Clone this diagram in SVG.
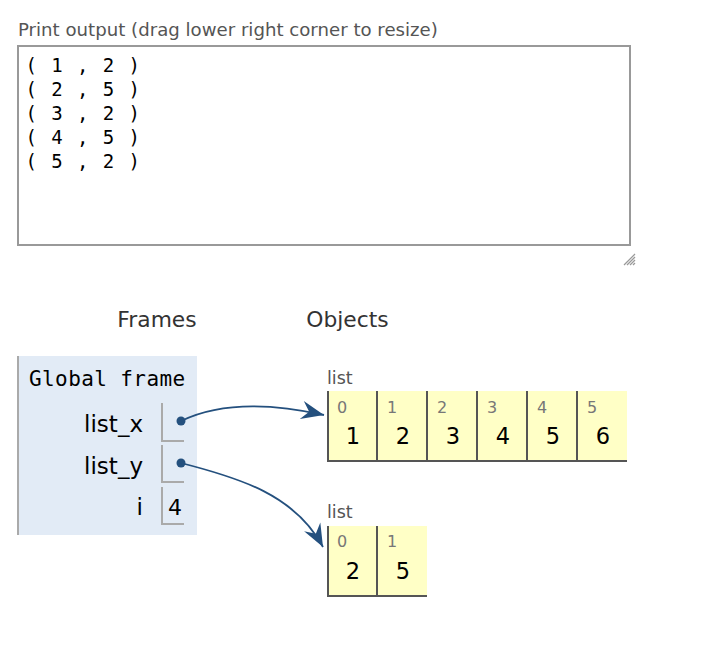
<svg xmlns="http://www.w3.org/2000/svg" width="718" height="648" viewBox="0 0 718 648">
<style>
.sans{font-family:"DejaVu Sans",Verdana,sans-serif}
.mono{font-family:"DejaVu Sans Mono","Liberation Mono",monospace}
.lbl{fill:#555;font-size:17.5px}
.title{fill:#555;font-size:18.15px}
.out{font-size:19px;letter-spacing:1.45px;fill:#000}
.hdr{font-size:21.8px;fill:#333}
.var{font-size:23px;fill:#000;text-anchor:end}
.val{font-size:22px;fill:#000}
.idx{font-size:16px;fill:#777}
.cellv{font-size:22.5px;fill:#000;text-anchor:middle}
.vbox{fill:none;stroke:#aaa;stroke-width:2}
.cell{fill:#ffffc6}
.sep{stroke:#555;stroke-width:2;fill:none}
.conn{fill:none;stroke:#24507e;stroke-width:1.8}
.dot{fill:#24507e}
</style>
<defs>
<marker id="ah" markerUnits="userSpaceOnUse" markerWidth="26" markerHeight="22" viewBox="-22 -10 24 20" refX="0" refY="0" orient="auto">
<path d="M0,0 L-21,-8.5 L-14,0 L-21,8.5 Z" fill="#24507e"/>
</marker>
</defs>
<rect width="718" height="648" fill="#fff"/>
<g id="print-output">
<text class="sans title" x="18" y="36">Print output (drag lower right corner to resize)</text>
<rect x="18" y="46" width="612" height="199" fill="#fff" stroke="#999" stroke-width="2"/>
<text class="mono out" x="25.5" y="72">( 1 , 2 )</text>
<text class="mono out" x="25.5" y="96">( 2 , 5 )</text>
<text class="mono out" x="25.5" y="120">( 3 , 2 )</text>
<text class="mono out" x="25.5" y="144">( 4 , 5 )</text>
<text class="mono out" x="25.5" y="168">( 5 , 2 )</text>
<g stroke="#999" stroke-width="1.2">
<line x1="624" y1="265" x2="635" y2="254"/>
<line x1="627" y1="265" x2="635" y2="257"/>
<line x1="630" y1="265" x2="635" y2="260"/>
<line x1="633" y1="265" x2="635" y2="263"/>
</g>
</g>
<text class="sans hdr" x="157" y="327" text-anchor="middle">Frames</text>
<text class="sans hdr" x="347.5" y="327" text-anchor="middle">Objects</text>
<g id="global-frame">
<rect x="17" y="356" width="180" height="179" fill="#e2ebf6"/>
<line x1="18" y1="356" x2="18" y2="535" stroke="#aaa" stroke-width="2"/>
<text class="mono" x="29" y="386" font-size="21" letter-spacing="0.4" fill="#000">Global frame</text>
<text class="sans var" x="143" y="432">list_x</text>
<path class="vbox" d="M162,403 V441 H184"/>
<circle class="dot" cx="181" cy="421" r="4.5"/>
<text class="sans var" x="143" y="473.5">list_y</text>
<path class="vbox" d="M162,445 V482 H184"/>
<circle class="dot" cx="181" cy="463" r="4.5"/>
<text class="sans var" x="143" y="515">i</text>
<path class="vbox" d="M162,487 V524 H184"/>
<text class="sans val" x="168" y="515">4</text>
</g>
<g id="list-x">
<text class="sans lbl" x="327" y="384">list</text>
<rect class="cell" x="327" y="391" width="300" height="70"/>
<path class="sep" d="M328,391 V461 H627 M377,391 V461 M427,391 V461 M477,391 V461 M527,391 V461 M577,391 V461"/>
<text class="sans idx" x="337" y="413">0</text>
<text class="sans idx" x="387" y="413">1</text>
<text class="sans idx" x="437" y="413">2</text>
<text class="sans idx" x="487" y="413">3</text>
<text class="sans idx" x="537" y="413">4</text>
<text class="sans idx" x="587" y="413">5</text>
<text class="sans cellv" x="353" y="443.5">1</text>
<text class="sans cellv" x="403" y="443.5">2</text>
<text class="sans cellv" x="453" y="443.5">3</text>
<text class="sans cellv" x="503" y="443.5">4</text>
<text class="sans cellv" x="553" y="443.5">5</text>
<text class="sans cellv" x="603" y="443.5">6</text>
</g>
<g id="list-y">
<text class="sans lbl" x="327" y="518">list</text>
<rect class="cell" x="327" y="526" width="100" height="70"/>
<path class="sep" d="M328,526 V596 H427 M377,526 V596"/>
<text class="sans idx" x="337" y="547">0</text>
<text class="sans idx" x="387" y="547">1</text>
<text class="sans cellv" x="353" y="578.5">2</text>
<text class="sans cellv" x="403" y="578.5">5</text>
</g>
<g id="connectors">
<path class="conn" d="M181,421 C220,402 270,403 324,415" marker-end="url(#ah)"/>
<path class="conn" d="M181,463 C240,478 295,495 323,547" marker-end="url(#ah)"/>
</g>
</svg>
